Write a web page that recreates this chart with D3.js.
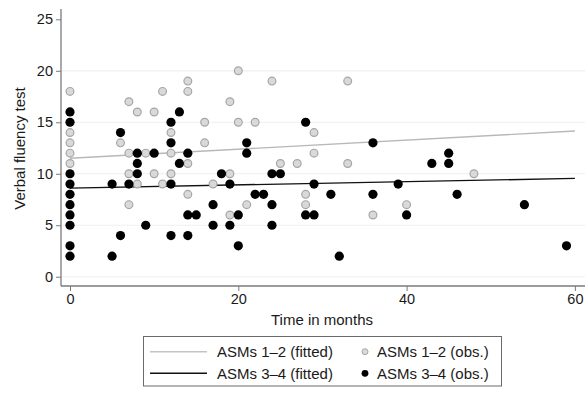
<!DOCTYPE html>
<html>
<head>
<meta charset="utf-8">
<script src="https://cdn.jsdelivr.net/npm/d3@7"></script>
<style>
  html, body { margin: 0; padding: 0; background: #fff; }
  svg { display: block; font-family: "Liberation Sans", Arial, sans-serif; }
</style>
</head>
<body>
<svg id="chart" width="586" height="402"></svg>
<script>
// Observed scores: months since baseline and verbal fluency score
const obs12Months = [0,0,0,0,0, 6, 7,7,7,7, 8,8, 9, 10,10, 11,11, 12,12,12, 14,14,14,14, 16,16, 17, 19,19,19, 20,20, 21, 22, 24, 25, 27, 28,28, 29,29, 33,33, 36, 40, 48];
const obs12Scores = [18,14,13,12,11, 13, 17,12,10,7, 16,9, 12, 16,10, 18,9, 14,12,10, 19,18,11,8, 15,13, 9, 17,10,6, 20,15, 7, 15, 19, 11, 11, 8,7, 14,12, 19,11, 6, 7, 10];

const obs34Months = [0,0,0,0,0,0,0,0,0,0, 5,5, 6,6, 7, 8,8,8, 9, 10, 12,12,12,12, 13,13, 14,14,14, 15, 17,17, 18, 19,19, 20,20, 21,21, 22, 23, 24,24,24, 25, 28,28, 29,29, 31, 32, 36,36, 39, 40, 43, 45,45, 46, 54, 59];
const obs34Scores = [16,15,10,9,8,7,6,5,3,2, 9,2, 14,4, 9, 12,11,10, 5, 12, 15,13,9,4, 16,11, 12,6,4, 6, 7,5, 10, 9,5, 6,3, 13,12, 8, 8, 10,7,5, 10, 15,6, 9,6, 8, 2, 13,8, 9, 6, 11, 12,11, 8, 7, 3];

// Fitted lines (start and end of follow-up)
const fitMonths = [0, 60];
const fit12 = [11.5, 14.15];
const fit34 = [8.6, 9.55];

const xTicks = [0, 20, 40, 60];
const yTicks = [0, 5, 10, 15, 20, 25];
const gridValues = [0, 5, 10, 15, 20];
const legendLabels = ["ASMs 1\u20132 (fitted)", "ASMs 3\u20134 (fitted)", "ASMs 1\u20132 (obs.)", "ASMs 3\u20134 (obs.)"];

const svg = d3.select("#chart");
const x = d3.scaleLinear().domain([-1.07, 61.2]).range([61, 585]);
const y = d3.scaleLinear().domain([-0.9, 26]).range([286, 9]);

const axisColor = "#7a7a7a";
const textColor = "#1a1a1a";

// Grid
svg.append("g").selectAll("line").data(gridValues).join("line")
  .attr("x1", 62).attr("x2", 585)
  .attr("y1", d => y(d)).attr("y2", d => y(d))
  .attr("stroke", "#eaf2f3").attr("stroke-width", 1.2);

// Axes
const yAxis = svg.append("g").attr("transform", "translate(61,0)")
  .call(d3.axisLeft(y).tickValues(yTicks).tickSize(5).tickPadding(3).tickFormat(d3.format("d")));
const xAxis = svg.append("g").attr("transform", "translate(0,286)")
  .call(d3.axisBottom(x).tickValues(xTicks).tickSize(5).tickPadding(3).tickFormat(d3.format("d")));
[yAxis, xAxis].forEach(g => {
  g.select(".domain").attr("stroke", axisColor).attr("stroke-width", 1.3);
  g.selectAll(".tick line").attr("stroke", axisColor).attr("stroke-width", 1);
  g.selectAll(".tick text").attr("fill", textColor).style("font-size", "14.5px")
    .style("font-family", "'Liberation Sans', Arial, sans-serif");
});
yAxis.select(".domain").attr("d", "M0,9V286");
xAxis.select(".domain").attr("d", "M61,0H585");

// Axis titles
svg.append("text").attr("x", 322).attr("y", 325).attr("text-anchor", "middle")
  .attr("fill", textColor).style("font-size", "15px").text("Time in months");
svg.append("text").attr("transform", "translate(25,148.5) rotate(-90)").attr("text-anchor", "middle")
  .attr("fill", textColor).style("font-size", "15px").text("Verbal fluency test");

// Fitted lines
const line = d3.line().x(d => x(d[0])).y(d => y(d[1]));
svg.append("path").datum(fitMonths.map((m, i) => [m, fit12[i]]))
  .attr("d", line).attr("fill", "none").attr("stroke", "#b8b8b8").attr("stroke-width", 1.4);
svg.append("path").datum(fitMonths.map((m, i) => [m, fit34[i]]))
  .attr("d", line).attr("fill", "none").attr("stroke", "#111").attr("stroke-width", 1.4);

// Observations
svg.append("g").selectAll("circle").data(obs12Months.map((m, i) => [m, obs12Scores[i]])).join("circle")
  .attr("cx", d => x(d[0])).attr("cy", d => y(d[1])).attr("r", 3.9)
  .attr("fill", "#d9d9d9").attr("stroke", "#a6a6a6").attr("stroke-width", 1.2);
svg.append("g").selectAll("circle").data(obs34Months.map((m, i) => [m, obs34Scores[i]])).join("circle")
  .attr("cx", d => x(d[0])).attr("cy", d => y(d[1])).attr("r", 4.6)
  .attr("fill", "#000");

// Legend
const lg = svg.append("g");
lg.append("rect").attr("x", 143.5).attr("y", 336.5).attr("width", 358).attr("height", 49.5)
  .attr("fill", "#fff").attr("stroke", "#6a6a6a").attr("stroke-width", 1);
const rows = [351.7, 373.3];
lg.append("line").attr("x1", 150).attr("x2", 207).attr("y1", rows[0]).attr("y2", rows[0])
  .attr("stroke", "#c4c4c4").attr("stroke-width", 1.4);
lg.append("line").attr("x1", 150).attr("x2", 207).attr("y1", rows[1]).attr("y2", rows[1])
  .attr("stroke", "#111").attr("stroke-width", 1.4);
lg.append("circle").attr("cx", 365).attr("cy", rows[0]).attr("r", 3)
  .attr("fill", "#d9d9d9").attr("stroke", "#a6a6a6").attr("stroke-width", 1);
lg.append("circle").attr("cx", 365).attr("cy", rows[1]).attr("r", 3.4).attr("fill", "#000");
const legendPos = [[217, rows[0]], [217, rows[1]], [377, rows[0]], [377, rows[1]]];
lg.selectAll("text").data(legendLabels).join("text")
  .attr("x", (d, i) => legendPos[i][0]).attr("y", (d, i) => legendPos[i][1])
  .attr("dy", "0.35em").attr("fill", textColor).style("font-size", "15px").text(d => d);
</script>
</body>
</html>
